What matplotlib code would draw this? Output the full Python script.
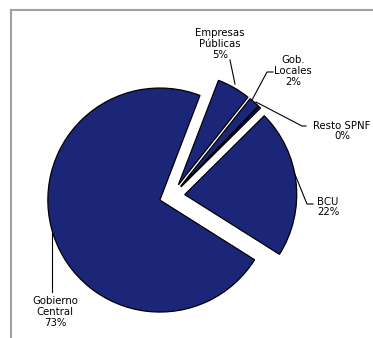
import matplotlib
matplotlib.use("Agg")
import matplotlib.pyplot as plt

categorias = ["Empresas\nPúblicas", "Gob.\nLocales", "Resto SPNF", "BCU", "Gobierno\nCentral"]
valores = [4.9, 1.6, 0.3, 21.6, 72.6]
etiquetas_pct = ["5%", "2%", "0%", "22%", "73%"]

W, H = 373, 338
fig = plt.figure(figsize=(W / 100, H / 100), dpi=100)
ax = fig.add_axes([0, 0, 1, 1])

def py(y):
    return H - y

ax.pie(valores, startangle=69, counterclock=False,
       center=(172, py(196)), radius=112,
       explode=[12.8] * len(valores),
       colors=["#1b2678"] * len(valores),
       wedgeprops=dict(edgecolor="black", linewidth=0.9))
ax.set_xlim(0, W)
ax.set_ylim(0, H)
ax.set_aspect("equal")
ax.axis("off")

# border (top and left)
ax.plot([11, W + 2], [py(10), py(10)], color="#a0a0a0", lw=1.5, clip_on=True)
ax.plot([11, 11], [py(10), -2], color="#a0a0a0", lw=1.5, clip_on=True)

label_pos = [(220, 44), (293, 71), (342, 131), (328, 207), (55, 312)]
leaders = [
    [(230, 60), (235, 84)],
    [(273, 72), (267, 72), (252, 100)],
    [(306, 126), (302, 126), (256, 102)],
    [(313, 204), (307, 204), (294, 172)],
    [(52, 292), (52, 233)],
]
for cat, pct, (lx, ly), pts in zip(categorias, etiquetas_pct, label_pos, leaders):
    ax.text(lx, py(ly), f"{cat}\n{pct}", ha="center", va="center",
            fontsize=7.3, family="DejaVu Sans", color="#000000", linespacing=1.1)
    xs = [p[0] for p in pts]
    ys = [py(p[1]) for p in pts]
    ax.plot(xs, ys, color="black", lw=0.8)

fig.savefig("out.png", dpi=100)
